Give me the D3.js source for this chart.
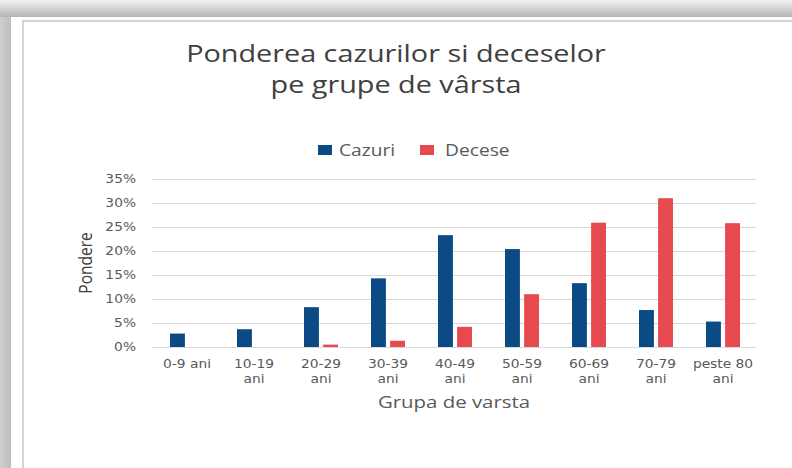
<!DOCTYPE html>
<html>
<head>
<meta charset="utf-8">
<script src="https://cdn.jsdelivr.net/npm/d3@7"></script>
<style>
  html, body { margin: 0; padding: 0; background: #fff; overflow: hidden; width: 792px; height: 468px; }
  svg { display: block; position: fixed; left: 0; top: 0; }
</style>
</head>
<body>
<div class="chartDiv"></div>
<script>
const categories = ['0-9 ani', '10-19 ani', '20-29 ani', '30-39 ani', '40-49 ani', '50-59 ani', '60-69 ani', '70-79 ani', 'peste 80 ani'];
const seriesNames = ['Cazuri', 'Decese'];
const cazuri = [0.028, 0.037, 0.083, 0.143, 0.233, 0.204, 0.133, 0.077, 0.053];
const decese = [0, 0, 0.005, 0.013, 0.042, 0.110, 0.259, 0.310, 0.258];
const yTicks = [0, 0.05, 0.10, 0.15, 0.20, 0.25, 0.30, 0.35];

const width = 792;
const height = 468;
const colors = ['#0c4a85', '#e64a4e'];
const textColor = '#595959';
// the source screenshot is stretched sideways, so text gets the same stretch
const stretch = 1.2;

const svg = d3.select('.chartDiv')
    .append('svg')
    .attr('width', width)
    .attr('height', height);

// frame shadow like the screenshot
const defs = svg.append('defs');
const topGrad = defs.append('linearGradient').attr('id', 'topGrad')
    .attr('x1', 0).attr('y1', 0).attr('x2', 0).attr('y2', 1);
topGrad.append('stop').attr('offset', '0%').attr('stop-color', '#f2f2f2');
topGrad.append('stop').attr('offset', '100%').attr('stop-color', '#b5b5b5');
const leftGrad = defs.append('linearGradient').attr('id', 'leftGrad')
    .attr('x1', 0).attr('y1', 0).attr('x2', 1).attr('y2', 0);
leftGrad.append('stop').attr('offset', '0%').attr('stop-color', '#d0d0d0');
leftGrad.append('stop').attr('offset', '100%').attr('stop-color', '#bdbdbd');

svg.append('rect').attr('x', 0).attr('y', 0).attr('width', width).attr('height', height)
    .attr('fill', '#fff');
svg.append('rect').attr('x', 0).attr('y', 0).attr('width', width).attr('height', 17)
    .attr('fill', 'url(#topGrad)');
svg.append('rect').attr('x', 0).attr('y', 17).attr('width', 11).attr('height', height - 17)
    .attr('fill', 'url(#leftGrad)');
svg.append('line').attr('x1', 22).attr('x2', width).attr('y1', 21).attr('y2', 21)
    .style('stroke', '#d4d4d4').style('stroke-width', 2);
svg.append('line').attr('x1', 23).attr('x2', 23).attr('y1', 21).attr('y2', height)
    .style('stroke', '#d4d4d4').style('stroke-width', 2);

function addText(parent, x, y, str, font, size, color, anchor, rotate) {
    return parent.append('text')
        .attr('transform', 'translate(' + x + ',' + y + ') scale(' + stretch + ',1)' + (rotate ? ' rotate(' + rotate + ')' : ''))
        .attr('text-anchor', anchor || 'start')
        .style('font-family', font)
        .style('font-size', size + 'px')
        .style('fill', color)
        .text(str);
}

const sansFont = '"Open Sans", sans-serif';
const tickFont = '"DejaVu Sans", sans-serif';

// title
addText(svg, 396, 62, 'Ponderea cazurilor si deceselor', sansFont, 24, '#404040', 'middle');
addText(svg, 396, 93, 'pe grupe de vârsta', sansFont, 24, '#404040', 'middle');

// scales
const x0 = d3.scaleBand()
    .domain(categories)
    .range([153.5, 756.5]);

const groupWidth = 34;
const x1 = d3.scaleBand()
    .domain(seriesNames)
    .range([0, groupWidth])
    .paddingInner(0.22);

const y = d3.scaleLinear()
    .domain([0, 0.35])
    .range([347, 179]);

// gridlines
svg.append('g')
    .selectAll('line')
    .data(yTicks)
    .enter()
    .append('line')
    .attr('x1', 152)
    .attr('x2', 756)
    .attr('y1', d => Math.round(y(d)) + 0.5)
    .attr('y2', d => Math.round(y(d)) + 0.5)
    .style('stroke', '#d9d9d9')
    .style('stroke-width', 1);

// y tick labels
const fmt = d3.format('.0%');
const yLabels = svg.append('g');
yTicks.forEach(t => {
    addText(yLabels, 136, y(t) + 4, fmt(t), tickFont, 11.5, textColor, 'end');
});

// bars
const rows = categories.map((c, i) => ({cat: c, values: [cazuri[i], decese[i]]}));
const groups = svg.append('g')
    .selectAll('g')
    .data(rows)
    .enter()
    .append('g')
    .attr('transform', d => 'translate(' + (x0(d.cat) + (x0.bandwidth() - groupWidth) / 2) + ',0)');

groups.selectAll('rect')
    .data(d => d.values.map((v, k) => ({name: seriesNames[k], value: v, k: k})))
    .enter()
    .append('rect')
    .attr('x', d => x1(d.name))
    .attr('width', x1.bandwidth())
    .attr('y', d => y(d.value))
    .attr('height', d => y(0) - y(d.value))
    .attr('fill', d => colors[d.k]);

// x labels, wrapped on the last space like the original
const xLabels = svg.append('g');
categories.forEach(d => {
    const cx = x0(d) + x0.bandwidth() / 2;
    let lines;
    if (d === '0-9 ani') {
        lines = [d];
    } else {
        const idx = d.lastIndexOf(' ');
        lines = [d.slice(0, idx), d.slice(idx + 1)];
    }
    lines.forEach((t, j) => {
        addText(xLabels, cx, 368 + j * 14.5, t, tickFont, 11.5, textColor, 'middle');
    });
});

// axis titles
addText(svg, 454, 408, 'Grupa de varsta', sansFont, 17, textColor, 'middle');
addText(svg, 92, 263, 'Pondere', sansFont, 15.5, '#404040', 'middle', -90);

// legend
const legendBoxX = [318, 420];
const legendTextX = [339, 445];
const legend = svg.append('g');
seriesNames.forEach((name, i) => {
    legend.append('rect')
        .attr('x', legendBoxX[i])
        .attr('y', 145)
        .attr('width', 14)
        .attr('height', 10)
        .attr('fill', colors[i]);
    addText(legend, legendTextX[i], 156, name, sansFont, 16, textColor, 'start');
});
</script>
</body>
</html>
